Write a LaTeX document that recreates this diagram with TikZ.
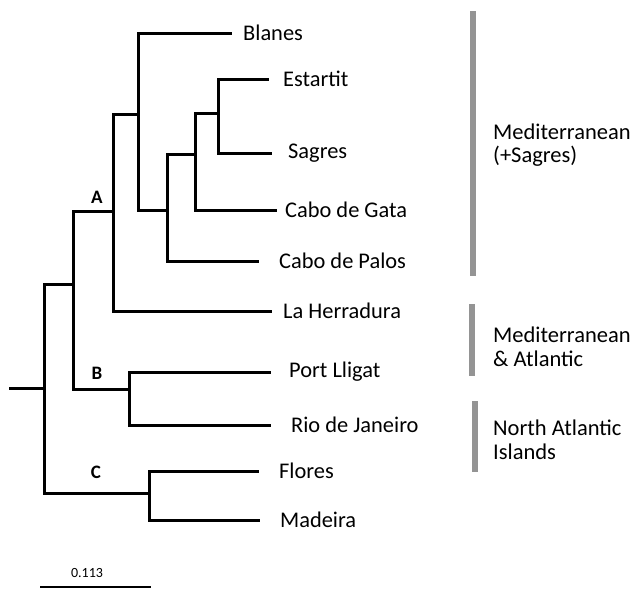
\documentclass[tikz,border=0pt]{standalone}
\usepackage{fontspec}
\setmainfont{Carlito}
\begin{document}
\begin{tikzpicture}[x=1pt,y=-1pt,
  branch/.style={line width=3pt,line cap=rect},
  leaf/.style={anchor=west,inner sep=0pt,font=\fontsize{22.4}{26}\selectfont},
  clade/.style={font=\fontsize{19}{22}\selectfont\bfseries,inner sep=0pt},
  grp/.style={anchor=west,align=left,inner sep=0pt,font=\fontsize{22.5}{23.5}\selectfont},
  bar/.style={line width=6pt,draw=black!42}]
\useasboundingbox (0,0) rectangle (633,590);
% internal nodes
\coordinate (stub) at (10,388);
\coordinate (R) at (44,388);
\coordinate (n0) at (73,284);
\coordinate (nA) at (113,211);
\coordinate (nA1) at (138,114);
\coordinate (nA2) at (167,210);
\coordinate (nA3) at (195,154);
\coordinate (nA4) at (218,113);
\coordinate (nB) at (129,389);
\coordinate (nC) at (149,493);
% leaves
\coordinate (lBl) at (230,33);
\coordinate (lEs) at (267,79);
\coordinate (lSa) at (270,153);
\coordinate (lGa) at (275,210);
\coordinate (lPa) at (257,261);
\coordinate (lHe) at (270,311);
\coordinate (lPo) at (269,372);
\coordinate (lRi) at (269,425);
\coordinate (lFl) at (257,471);
\coordinate (lMa) at (258,520);
% tree
\draw[branch] (stub) -- (R);
\draw[branch] (R) |- (n0);
\draw[branch] (R) |- (nC);
\draw[branch] (n0) |- (nA);
\draw[branch] (n0) |- (nB);
\draw[branch] (nA) |- (nA1);
\draw[branch] (nA) |- (lHe);
\draw[branch] (nA1) |- (lBl);
\draw[branch] (nA1) |- (nA2);
\draw[branch] (nA2) |- (nA3);
\draw[branch] (nA2) |- (lPa);
\draw[branch] (nA3) |- (nA4);
\draw[branch] (nA3) |- (lGa);
\draw[branch] (nA4) |- (lEs);
\draw[branch] (nA4) |- (lSa);
\draw[branch] (nB) |- (lPo);
\draw[branch] (nB) |- (lRi);
\draw[branch] (nC) |- (lFl);
\draw[branch] (nC) |- (lMa);
% leaf labels
\node[leaf] (tBl) at (243,33) {Blanes};
\node[leaf] (tEs) at (283,79) {Estartit};
\node[leaf] (tSa) at (288,153) {Sagres};
\node[leaf] (tGa) at (285,210) {Cabo de Gata};
\node[leaf] (tPa) at (279,261) {Cabo de Palos};
\node[leaf] (tHe) at (283,311) {La Herradura};
\node[leaf] (tPo) at (289,372) {Port Lligat};
\node[leaf] (tRi) at (291,425) {Rio de Janeiro};
\node[leaf] (tFl) at (279,471) {Flores};
\node[leaf] (tMa) at (280,520) {Madeira};
% clade labels
\node[clade] (cA) at (97,197) {A};
\node[clade] (cB) at (97,373) {B};
\node[clade] (cC) at (96,472) {C};
% group bars
\coordinate (b1t) at (473,11);
\coordinate (b1b) at (473,276);
\coordinate (b2t) at (472,304);
\coordinate (b2b) at (472,376);
\coordinate (b3t) at (475,401);
\coordinate (b3b) at (475,472);
\draw[bar] (b1t) -- (b1b);
\draw[bar] (b2t) -- (b2b);
\draw[bar] (b3t) -- (b3b);
\node[grp] (g1) at (493,145) {Mediterranean\\(+Sagres)};
\node[grp] (g2) at (493,347) {Mediterranean\\\& Atlantic};
\node[grp] (g3) at (493,440) {North Atlantic\\Islands};
% scale bar
\coordinate (s1) at (40,587);
\coordinate (s2) at (151,587);
\draw[line width=1.8pt] (s1) -- (s2);
\node[font=\fontsize{14}{16}\selectfont,inner sep=0pt] (sl) at (87,573) {0.113};
\end{tikzpicture}
\end{document}
